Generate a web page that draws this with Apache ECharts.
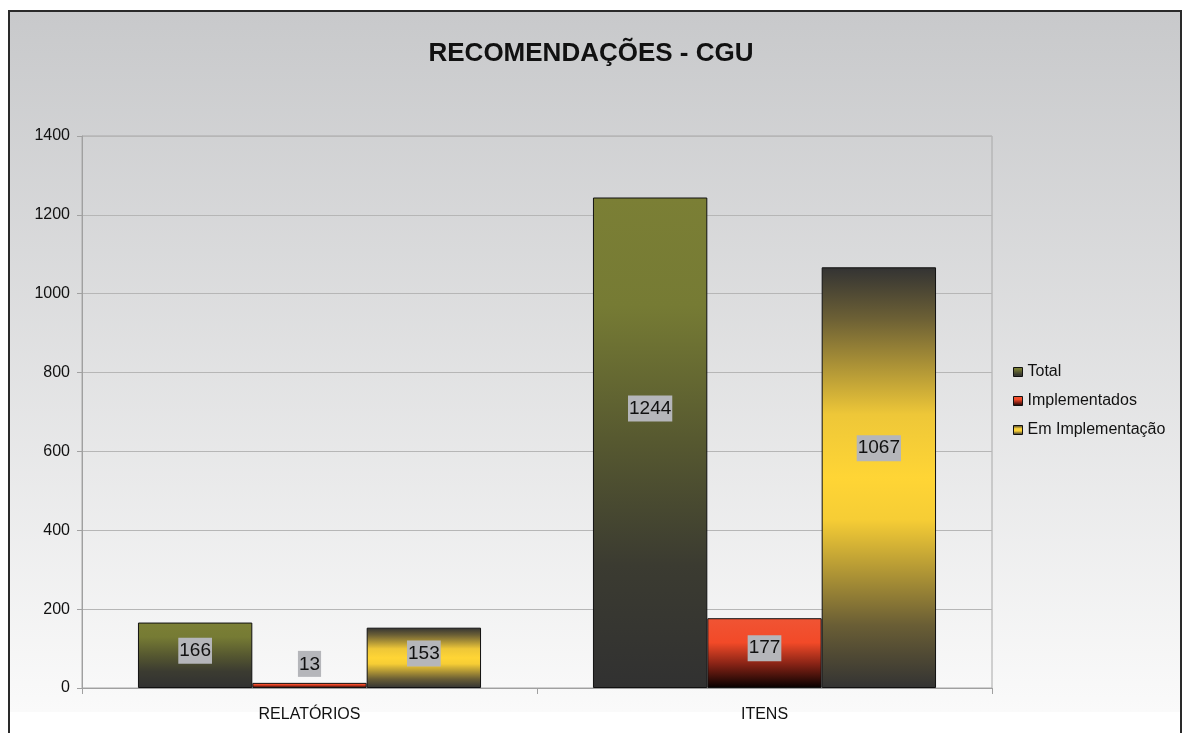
<!DOCTYPE html>
<html>
<head>
<meta charset="utf-8">
<script src="https://cdn.jsdelivr.net/npm/echarts@6/dist/echarts.min.js"></script>
<style>
  html, body {
    margin: 0;
    padding: 0;
    background: #fff;
    overflow: hidden;
  }
  .frame {
    position: absolute;
    left: 8px;
    top: 10px;
    width: 1174px;
    height: 760px;
    box-sizing: border-box;
    border: 2px solid #2a2a2a;
    border-bottom: none;
    background-color: #fff;
    background-image: linear-gradient(to bottom, #c8c9cb, #fafafa);
    background-size: 100% 700px;
    background-repeat: no-repeat;
  }
  #main {
    position: absolute;
    left: 0;
    top: 0;
    width: 1182px;
    height: 733px;
  }
</style>
</head>
<body>
<div class="frame"></div>
<div id="main"></div>
<script>
// categorias e valores
const categories = ["RELATÓRIOS", "ITENS"];
const seriesNames = ["Total", "Implementados", "Em Implementação"];
const total = [166, 1244];
const implementados = [13, 177];
const emImplementacao = [153, 1067];
const yTicks = { min: 0, max: 1400, interval: 200 };

const FONT = "Liberation Sans, Arial, sans-serif";

// gradientes de cada série (de cima para baixo)
const fills = [
  [[0, "#7b7f35"], [0.22, "#767b34"], [0.5, "#565830"], [0.75, "#3b3b31"], [1, "#313131"]],
  [[0, "#f05434"], [0.35, "#f24a28"], [0.65, "#8a2416"], [1, "#050000"]],
  [[0, "#333333"], [0.12, "#6b5f35"], [0.35, "#eec738"], [0.5, "#ffd535"], [0.6, "#f6cd35"], [0.85, "#6a5e35"], [1, "#333333"]],
];

function grad(stops) {
  return new echarts.graphic.LinearGradient(0, 0, 0, 1,
    stops.map(function (s) { return { offset: s[0], color: s[1] }; }));
}

const labelBase = {
  show: true,
  position: ["50%", "43%"],
  align: "center",
  verticalAlign: "middle",
  fontFamily: FONT,
  fontSize: 19,
  color: "#111",
  backgroundColor: "#b5b6ba",
  padding: [4, 1, 3, 1],
};

function buildSeries(name, values, idx) {
  return {
    name: name,
    type: "bar",
    barGap: "0%",
    barCategoryGap: "24.6%",
    itemStyle: {
      color: grad(fills[idx]),
      borderColor: "#111",
      borderWidth: 1,
    },
    label: labelBase,
    data: values.map(function (v) {
      // valores muito pequenos: rótulo acima da barra
      if (v < 50) {
        return {
          value: v,
          label: { position: "top", distance: 6, align: "center", verticalAlign: "bottom" },
        };
      }
      return v;
    }),
  };
}

const myChart = echarts.init(document.getElementById("main"), null, { renderer: "canvas" });

myChart.setOption({
  backgroundColor: "transparent",
  animation: false,
  textStyle: { fontFamily: FONT },
  title: {
    text: "RECOMENDAÇÕES - CGU",
    left: "center",
    top: 36,
    padding: [5, 0, 5, 10],
    textStyle: {
      fontFamily: FONT,
      fontSize: 26,
      fontWeight: "bold",
      color: "#111",
    },
  },
  legend: {
    orient: "vertical",
    left: 1013,
    top: 364,
    padding: 0,
    itemWidth: 9,
    itemHeight: 9,
    itemGap: 13,
    icon: "rect",
    itemStyle: { borderColor: "#111", borderWidth: 1 },
    textStyle: {
      fontFamily: FONT,
      fontSize: 16,
      color: "#111",
    },
    data: seriesNames,
  },
  grid: {
    left: 82,
    top: 136,
    right: 190,
    bottom: 45,
    show: true,
    borderColor: "#a8a8a8",
    borderWidth: 1,
    backgroundColor: "transparent",
    containLabel: false,
  },
  xAxis: {
    type: "category",
    data: categories,
    axisLine: { lineStyle: { color: "#a0a0a0", width: 1 } },
    axisTick: { show: true, length: 6, lineStyle: { color: "#a0a0a0" } },
    axisLabel: {
      margin: 19,
      fontSize: 16,
      color: "#111",
      fontFamily: FONT,
    },
  },
  yAxis: {
    type: "value",
    min: yTicks.min,
    max: yTicks.max,
    interval: yTicks.interval,
    axisLine: { show: true, lineStyle: { color: "#a0a0a0", width: 1 } },
    axisTick: { show: true, length: 5, lineStyle: { color: "#a0a0a0" } },
    splitLine: { lineStyle: { color: "#b6b6b6", width: 1 } },
    axisLabel: {
      margin: 12,
      fontSize: 16,
      color: "#111",
      fontFamily: FONT,
      formatter: function (v) { return String(v); },
    },
  },
  series: [
    buildSeries(seriesNames[0], total, 0),
    buildSeries(seriesNames[1], implementados, 1),
    buildSeries(seriesNames[2], emImplementacao, 2),
  ],
});
</script>
</body>
</html>
